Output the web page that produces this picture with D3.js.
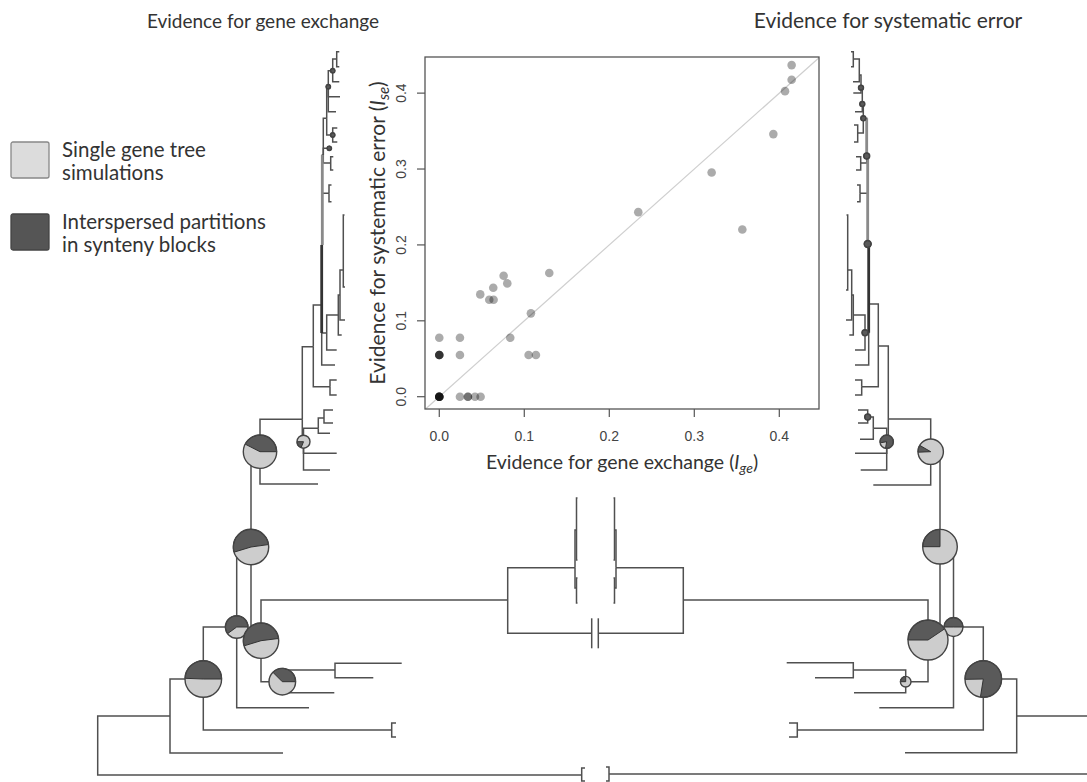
<!DOCTYPE html>
<html>
<head>
<meta charset="utf-8">
<script src="https://cdn.jsdelivr.net/npm/d3@7"></script>
<style>
  body { margin: 0; background: #fff; }
  text { font-family: Lato, "Open Sans", sans-serif; fill: #333; }
  .tick { font-family: "Liberation Sans", Arial, sans-serif; font-size: 14px; fill: #444; }
</style>
</head>
<body>
<svg id="fig" width="1087" height="782"></svg>
<script>
// ---- scatter: evidence for gene exchange vs systematic error ----
var geneExchange = [0.4145, 0.4145, 0.4067, 0.393, 0.3204, 0.2341, 0.3565, 0.1294, 0.0757, 0.08,
  0.0635, 0.0482, 0.0588, 0.0639, 0.1078, 0.0835, 0, 0.0243, 0.0243, 0, 0, 0, 0,
  0.1051, 0.1137, 0, 0, 0, 0, 0, 0, 0.0243, 0.0337, 0.0337, 0.042, 0.0486];
var systematicError = [0.4369, 0.4176, 0.4026, 0.346, 0.2955, 0.2432, 0.2204, 0.1629, 0.1594, 0.1493,
  0.1436, 0.1348, 0.1278, 0.1278, 0.1098, 0.0777, 0.0777, 0.0777, 0.0549, 0.0549, 0.0549, 0.0549, 0.0549,
  0.0549, 0.0549, 0, 0, 0, 0, 0, 0, 0, 0, 0, 0, 0];
var tickValues = [0, 0.1, 0.2, 0.3, 0.4];
var tickLabels = ['0.0', '0.1', '0.2', '0.3', '0.4'];
var xLimits = [-0.0168, 0.4467];
var yLimits = [-0.0162, 0.4476];

// ---- trees: [node, parent, depth (subst./site), vertical position] ----
var leftTree = [
  ['R', null, 0, 74.5],
  ['og', 'R', 0.484, 77.5], ['', 'og', 0.4873, 76.8], ['', 'og', 0.4873, 78.1],
  ['A', 'R', 0.0723, 71.6], ['', 'A', 0.1853, 75.3],
  ['B', 'A', 0.1056, 67.9],
  ['Bq', 'B', 0.294, 73.0], ['', 'Bq', 0.2983, 72.3], ['', 'Bq', 0.2983, 73.7],
  ['C', 'B', 0.139, 62.7], ['', 'C', 0.2113, 70.77],
  ['D', 'C', 0.1533, 54.7],
  ['E', 'D', 0.1633, 64.07],
  ['F', 'E', 0.1846, 68.17], ['', 'F', 0.2366, 69.27],
  ['H', 'F', 0.2373, 67.0], ['', 'H', 0.304, 66.33], ['', 'H', 0.2756, 67.77],
  ['I', 'E', 0.41, 60.0],
  ['Ib', 'I', 0.494, 63.33],
  ['Ic', 'I', 0.4773, 56.77],
  ['Ic1', 'Ic', 0.4788, 53.0], ['', 'Ic1', 0.4798, 49.8], ['', 'Ic1', 0.4798, 56.0],
  ['Ic2', 'Ic', 0.4788, 58.8], ['', 'Ic2', 0.4798, 57.8], ['', 'Ic2', 0.4798, 60.3],
  ['G', 'D', 0.1623, 45.17], ['', 'G', 0.2203, 48.4],
  ['J', 'G', 0.2046, 41.93],
  ['K', 'J', 0.2058, 44.17],
  ['Kq', 'K', 0.2206, 42.83],
  ['Kq1', 'Kq', 0.2263, 41.8], ['', 'Kq1', 0.2353, 41.0], ['', 'Kq1', 0.2353, 42.3],
  ['', 'Kq', 0.2323, 43.33],
  ['', 'K', 0.239, 45.33], ['', 'K', 0.2323, 47.0],
  ['L', 'J', 0.2156, 34.67],
  ['Lq', 'L', 0.2323, 38.67], ['', 'Lq', 0.239, 38.0], ['', 'Lq', 0.239, 39.5],
  ['M', 'L', 0.224, 30.5], ['', 'M', 0.2373, 36.5],
  ['N', 'M', 0.229, 33.3], ['', 'N', 0.239, 35.0],
  ['N2', 'N', 0.2406, 31.5], ['', 'N2', 0.244, 33.5],
  ['P', 'N2', 0.2423, 29.5], ['', 'P', 0.2473, 32.0],
  ['Q', 'P', 0.2456, 27.0], ['', 'Q', 0.2468, 21.5], ['', 'Q', 0.2473, 28.7],
  ['U', 'M', 0.2246, 24.5],
  ['Uq', 'U', 0.2313, 19.33], ['', 'Uq', 0.2338, 18.5], ['', 'Uq', 0.2338, 20.17],
  ['V', 'U', 0.2256, 15.5],
  ['Vd', 'V', 0.2316, 14.83],
  ['Vq', 'V', 0.233, 16.3], ['', 'Vq', 0.2356, 15.67], ['', 'Vq', 0.2356, 17.0],
  ['W', 'V', 0.229, 11.83],
  ['Wq', 'W', 0.235, 13.5], ['', 'Wq', 0.2396, 12.8], ['', 'Wq', 0.2396, 14.2],
  ['T3', 'W', 0.2306, 8.67], ['', 'T3', 0.2423, 9.67], ['', 'T3', 0.2383, 11.17],
  ['T2', 'T3', 0.235, 7.07], ['', 'T2', 0.2416, 8.17],
  ['T1', 'T2', 0.239, 5.9], ['', 'T1', 0.2416, 5.17], ['', 'T1', 0.2416, 6.67]
];

var rightTree = [
  ['R', null, 0, 74.5],
  ['og', 'R', 0.491, 77.4], ['', 'og', 0.494, 76.7], ['', 'og', 0.494, 78.1],
  ['A', 'R', 0.0833, 71.6], ['', 'A', 0.195, 75.27],
  ['B', 'A', 0.1167, 67.9],
  ['Bq', 'B', 0.3027, 73.0], ['', 'Bq', 0.311, 72.3], ['', 'Bq', 0.311, 73.7],
  ['C', 'B', 0.1465, 62.7], ['', 'C', 0.2207, 70.77],
  ['D', 'C', 0.16, 54.67],
  ['E', 'D', 0.172, 64.0],
  ['F', 'E', 0.1943, 68.17], ['', 'F', 0.246, 69.27],
  ['H', 'F', 0.2467, 67.0], ['', 'H', 0.3133, 66.27], ['', 'H', 0.285, 67.77],
  ['I', 'E', 0.4167, 60.0],
  ['Ib', 'I', 0.5017, 63.33],
  ['Ic', 'I', 0.484, 56.77],
  ['Ic1', 'Ic', 0.4855, 53.0], ['', 'Ic1', 0.4865, 49.8], ['', 'Ic1', 0.4865, 56.0],
  ['Ic2', 'Ic', 0.4855, 58.8], ['', 'Ic2', 0.4865, 57.8], ['', 'Ic2', 0.4865, 60.3],
  ['G', 'D', 0.1693, 45.17], ['', 'G', 0.2267, 48.5],
  ['J', 'G', 0.2117, 41.9],
  ['K', 'J', 0.2133, 44.17],
  ['Kq', 'K', 0.2267, 42.83],
  ['Kq1', 'Kq', 0.2323, 41.7], ['', 'Kq1', 0.242, 41.0], ['', 'Kq1', 0.242, 42.3],
  ['', 'Kq', 0.24, 43.93],
  ['', 'K', 0.245, 45.33], ['', 'K', 0.2393, 47.0],
  ['L', 'J', 0.2217, 34.6],
  ['Lq', 'L', 0.2383, 38.67], ['', 'Lq', 0.245, 38.0], ['', 'Lq', 0.245, 39.5],
  ['M', 'L', 0.2313, 30.4], ['', 'M', 0.245, 36.5],
  ['N', 'M', 0.235, 33.27], ['', 'N', 0.245, 35.0],
  ['N2', 'N', 0.2467, 31.5], ['', 'N2', 0.2507, 33.5],
  ['P', 'N2', 0.2483, 29.5], ['', 'P', 0.254, 32.0],
  ['Q', 'P', 0.2523, 27.0], ['', 'Q', 0.2535, 21.5], ['', 'Q', 0.254, 29.0],
  ['U', 'M', 0.2323, 24.4],
  ['Uq', 'U', 0.24, 19.33], ['', 'Uq', 0.243, 18.5], ['', 'Uq', 0.243, 20.17],
  ['V', 'U', 0.2333, 15.6],
  ['Vq', 'V', 0.2393, 16.3], ['', 'Vq', 0.244, 15.67], ['', 'Vq', 0.244, 17.0],
  ['W', 'V', 0.2367, 11.83],
  ['Wq', 'W', 0.2423, 13.3], ['', 'Wq', 0.246, 12.5], ['', 'Wq', 0.246, 14.2],
  ['T3', 'W', 0.2377, 10.4], ['', 'T3', 0.245, 11.17],
  ['T2', 'T3', 0.239, 8.77], ['', 'T2', 0.2467, 9.3],
  ['T1b', 'T2', 0.2407, 7.5], ['', 'T1b', 0.247, 8.17],
  ['T1', 'T1b', 0.2467, 5.9], ['', 'T1', 0.249, 5.17], ['', 'T1', 0.249, 6.67]
];

// pies: [node, relative size, dark start (turns, ccw from east), dark share]
var leftPies = [
  ['G', 0.835, 0, 0.425], ['K', 0.325, 0.5, 0.19], ['D', 0.885, 0.022, 0.525],
  ['C', 0.565, 0, 0.6], ['E', 0.885, 0.02, 0.527], ['F', 0.665, 0, 0.375],
  ['B', 0.915, 0, 0.494],
  ['T2', 0.11, 0, 1], ['T3', 0.11, 0, 1], ['Wq', 0.11, 0, 1], ['Vd', 0.11, 0, 1]
];
var rightPies = [
  ['G', 0.635, 0.417, 0.089], ['K', 0.335, 0.722, 0.806], ['D', 0.865, 0.25, 0.25],
  ['C', 0.475, 0, 0.5], ['E', 1.0, 0.094, 0.406], ['F', 0.265, 0.25, 0.25],
  ['B', 0.915, 0.725, 0.778],
  ['T2', 0.125, 0, 1], ['T3', 0.125, 0, 1], ['W', 0.125, 0, 1], ['V', 0.15, 0, 1],
  ['U', 0.175, 0, 1], ['N', 0.15, 0, 1], ['Kq1', 0.15, 0, 1]
];
// heavier vertical runs: [node, from pos, to pos, shade]
var leftThick = [['M', 24.5, 33.3, '#333'], ['U', 15.5, 24.5, '#8a8a8a']];
var rightThick = [['M', 24.4, 33.27, '#333'], ['U', 15.6, 24.4, '#8a8a8a'], ['V', 11.83, 15.6, '#8a8a8a']];
var breakNodes = ['Ib'];

var legendLabels = [['Single gene tree', 'simulations'], ['Interspersed partitions', 'in synteny blocks']];
var panelTitles = ['Evidence for gene exchange', 'Evidence for systematic error'];

var lightFill = '#cdcdcd', darkFill = '#5a5a5a', lineCol = '#505050';

var svg = d3.select('#fig');

/* shared vertical scale for both trees, one horizontal scale per tree */
var yT = d3.scaleLinear().domain([0, 78.2]).range([0, 782]);
var xLeft = d3.scaleLinear().domain([0, 0.5]).range([97.7, 597.7]);
var xRight = d3.scaleLinear().domain([0, 0.5]).range([1100, 600]);
var rScale = d3.scaleLinear().domain([0, 1]).range([0, 20]);

function drawTree(rows, xs, thick, pies) {
  var g = svg.append('g');
  var nodes = {};
  rows.forEach(function(r) {
    if (r[0]) nodes[r[0]] = { depth: r[2], pos: r[3] };
  });

  // elbow from parent to each child
  g.selectAll('path.edge')
    .data(rows.filter(function(r) { return r[1]; }))
    .enter().append('path')
    .attr('class', 'edge')
    .attr('fill', 'none')
    .attr('stroke', lineCol)
    .attr('stroke-width', 1.5)
    .attr('d', function(r) {
      var p = nodes[r[1]];
      return 'M' + xs(p.depth) + ',' + yT(p.pos) + 'V' + yT(r[3]) + 'H' + xs(r[2]);
    });

  g.selectAll('line.thick')
    .data(thick)
    .enter().append('line')
    .attr('x1', function(d) { return xs(nodes[d[0]].depth); })
    .attr('x2', function(d) { return xs(nodes[d[0]].depth); })
    .attr('y1', function(d) { return yT(d[1]); })
    .attr('y2', function(d) { return yT(d[2]); })
    .attr('stroke', function(d) { return d[3]; })
    .attr('stroke-width', 2.8);

  // short bars where the long internal branch is cut
  g.selectAll('line.brk')
    .data(breakNodes)
    .enter().append('line')
    .attr('x1', function(id) { return xs(nodes[id].depth); })
    .attr('x2', function(id) { return xs(nodes[id].depth); })
    .attr('y1', function(id) { return yT(nodes[id].pos - 1.5); })
    .attr('y2', function(id) { return yT(nodes[id].pos + 1.5); })
    .attr('stroke', lineCol)
    .attr('stroke-width', 1.5);

  var pg = g.selectAll('g.pie')
    .data(pies)
    .enter().append('g')
    .attr('transform', function(d) {
      var n = nodes[d[0]];
      return 'translate(' + xs(n.depth) + ',' + yT(n.pos) + ')';
    });

  pg.append('circle')
    .attr('r', function(d) { return rScale(d[1]); })
    .attr('fill', lightFill);

  // d3.arc angles run clockwise from north; pie shares run counter-clockwise from east
  pg.append('path')
    .attr('fill', darkFill)
    .attr('stroke', '#333')
    .attr('stroke-width', 1)
    .attr('d', function(d) {
      var r = rScale(d[1]);
      return d3.arc()({
        innerRadius: 0, outerRadius: r,
        startAngle: Math.PI / 2 - 2 * Math.PI * (d[2] + d[3]),
        endAngle: Math.PI / 2 - 2 * Math.PI * d[2]
      });
    });

  pg.append('circle')
    .attr('r', function(d) { return rScale(d[1]); })
    .attr('fill', 'none')
    .attr('stroke', '#444')
    .attr('stroke-width', 1.4);
}

drawTree(leftTree, xLeft, leftThick, leftPies);
drawTree(rightTree, xRight, rightThick, rightPies);

/* ---- scatter panel ---- */
var xS = d3.scaleLinear().domain(xLimits).range([425, 819]);
var yS = d3.scaleLinear().domain(yLimits).range([409, 57]);
var sp = svg.append('g');

sp.append('line')
  .attr('x1', xS(yLimits[0])).attr('y1', yS(yLimits[0]))
  .attr('x2', xS(xLimits[1])).attr('y2', yS(xLimits[1]))
  .attr('stroke', '#cfcfcf').attr('stroke-width', 1.2);

sp.selectAll('circle.pt')
  .data(geneExchange)
  .enter().append('circle')
  .attr('cx', function(d) { return xS(d); })
  .attr('cy', function(d, i) { return yS(systematicError[i]); })
  .attr('r', 4.3)
  .attr('fill', '#000')
  .attr('fill-opacity', 0.33);

sp.append('rect')
  .attr('x', 425).attr('y', 57).attr('width', 394).attr('height', 352)
  .attr('fill', 'none').attr('stroke', '#555').attr('stroke-width', 1.3);

sp.selectAll('line.xt').data(tickValues).enter().append('line')
  .attr('x1', function(d) { return xS(d); }).attr('x2', function(d) { return xS(d); })
  .attr('y1', 409).attr('y2', 417)
  .attr('stroke', '#555').attr('stroke-width', 1.2);
sp.selectAll('line.yt').data(tickValues).enter().append('line')
  .attr('y1', function(d) { return yS(d); }).attr('y2', function(d) { return yS(d); })
  .attr('x1', 425).attr('x2', 417)
  .attr('stroke', '#555').attr('stroke-width', 1.2);

sp.selectAll('text.xl').data(tickValues).enter().append('text')
  .attr('class', 'tick')
  .attr('x', function(d) { return xS(d); })
  .attr('y', 441)
  .attr('text-anchor', 'middle')
  .text(function(d, i) { return tickLabels[i]; });
sp.selectAll('text.yl').data(tickValues).enter().append('text')
  .attr('class', 'tick')
  .attr('transform', function(d) { return 'translate(406,' + yS(d) + ') rotate(-90)'; })
  .attr('text-anchor', 'middle')
  .text(function(d, i) { return tickLabels[i]; });

var xt = sp.append('text')
  .attr('x', 622).attr('y', 469)
  .attr('text-anchor', 'middle')
  .style('font-size', '19.5px')
  .text('Evidence for gene exchange (');
xt.append('tspan').style('font-style', 'italic').text('I');
xt.append('tspan').style('font-style', 'italic').attr('dy', 4).style('font-size', '14px').text('ge');
xt.append('tspan').attr('dy', -4).text(')');

var yt = sp.append('text')
  .attr('transform', 'translate(385,233) rotate(-90)')
  .attr('text-anchor', 'middle')
  .style('font-size', '21px')
  .text('Evidence for systematic error (');
yt.append('tspan').style('font-style', 'italic').text('I');
yt.append('tspan').style('font-style', 'italic').attr('dy', 4).style('font-size', '15px').text('se');
yt.append('tspan').attr('dy', -4).text(')');

/* ---- titles and legend ---- */
svg.selectAll('text.title')
  .data(panelTitles)
  .enter().append('text')
  .attr('x', function(d, i) { return i === 0 ? 263 : 888; })
  .attr('y', 28)
  .attr('text-anchor', 'middle')
  .style('font-size', function(d, i) { return i === 0 ? '19px' : '21px'; })
  .text(function(d) { return d; });

var lg = svg.selectAll('g.leg')
  .data(legendLabels)
  .enter().append('g')
  .attr('transform', function(d, i) { return 'translate(11,' + (142 + i * 72) + ')'; });
lg.append('rect')
  .attr('width', 38).attr('height', 36).attr('rx', 2)
  .attr('fill', function(d, i) { return i === 0 ? '#dcdcdc' : '#555'; })
  .attr('stroke', function(d, i) { return i === 0 ? '#888' : '#444'; })
  .attr('stroke-width', 1.3);
lg.selectAll('text')
  .data(function(d) { return d; })
  .enter().append('text')
  .attr('x', 51)
  .attr('y', function(d, j) { return 15 + j * 23; })
  .style('font-size', '20.5px')
  .text(function(d) { return d; });
</script>
</body>
</html>
